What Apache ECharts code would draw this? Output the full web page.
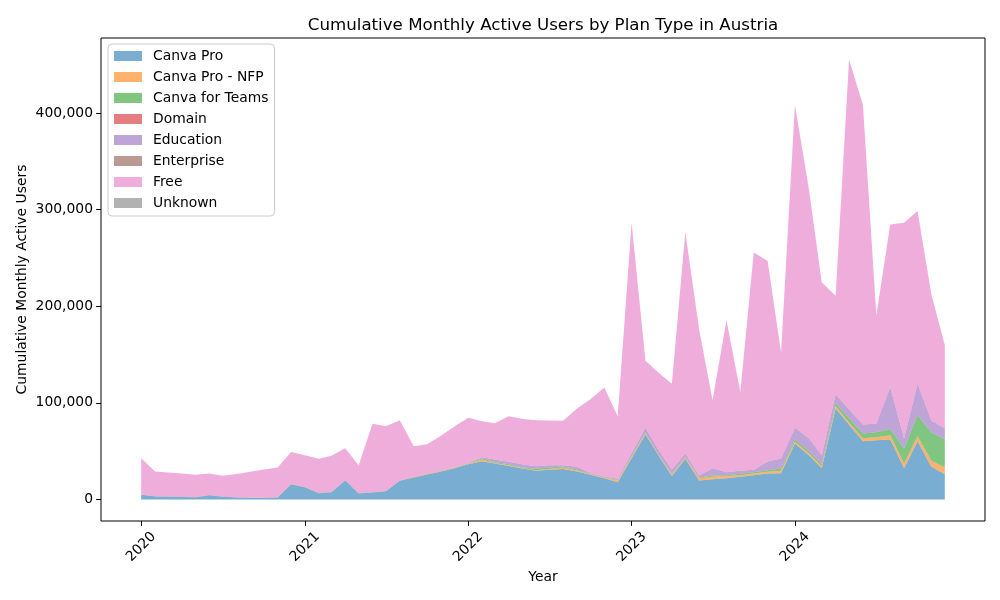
<!DOCTYPE html>
<html>
<head>
<meta charset="utf-8">
<style>html,body{margin:0;padding:0;background:#fff}#c{width:1000px;height:600px}</style>
<script src="https://cdn.jsdelivr.net/npm/echarts@6/dist/echarts.min.js"></script>
</head>
<body>
<div id="c"></div>
<script>
const planNames = ['Canva Pro','Canva Pro - NFP','Canva for Teams','Domain','Education','Enterprise','Free','Unknown'];
const planColors = ['#1f77b4','#ff7f0e','#2ca02c','#d62728','#9467bd','#8c564b','#e377c2','#7f7f7f'];
const startYear = 2020;
const endYear = 2024;
const yearLabels = ['2020','2021','2022','2023','2024'];
const valueTicks = [0,100000,200000,300000,400000];

const canvaPro = [4800,3100,2800,2600,2400,4500,2800,2000,1900,1900,2000,15900,12800,6500,7600,19700,6200,7200,8500,19300,22800,25900,29000,32400,36500,39700,37200,34800,32000,29700,30700,31700,29000,25500,22000,17900,42800,67300,46200,24200,42100,19700,21000,22100,23500,25200,26900,27300,58000,45900,32400,94200,77300,60400,61400,62100,32400,60400,33800,26200];
const canvaProNfp = [100,100,100,100,100,100,100,100,100,100,100,100,100,100,100,100,100,100,100,100,500,500,500,500,500,1700,700,700,700,700,1000,1400,1000,700,700,1700,1500,1400,1000,1700,1400,2400,2500,2100,1700,1700,1700,2400,1700,1700,2100,2400,2400,3100,3100,4500,4900,5100,6200,6900];
const canvaTeams = [100,100,100,100,100,100,100,100,100,100,100,100,100,100,100,100,100,100,100,100,200,200,200,200,300,1300,1000,1000,700,1400,1400,1000,1000,300,300,700,700,700,400,400,400,700,1300,1000,1400,1400,1800,2400,2700,2400,2100,3400,4100,4800,5200,6500,15500,21800,29700,29000];
const domain = new Array(60).fill(0);
const education = [100,100,100,100,100,100,100,100,100,100,100,100,100,100,100,100,100,100,100,100,100,100,100,100,200,1100,2500,2500,3200,2700,2400,1400,2800,800,800,1100,3000,4800,4500,4700,3700,2000,7600,3100,3100,2400,8900,10300,11800,13500,9300,9000,9300,9300,9000,43200,10300,32700,11700,11700];
const enterprise = new Array(60).fill(0);
const free = [37700,25600,24900,24100,22800,22200,21400,24200,26400,28800,30800,33100,32800,35300,37300,33100,29000,70800,67100,62500,31600,30600,36200,42300,47000,37200,37600,47200,46900,47600,46300,45900,60400,76500,92100,64800,238400,69300,79700,88900,229400,151200,70400,157300,81700,225000,207700,109800,334100,258500,178800,101900,362300,330700,112100,168400,223300,178500,130800,85900];
const unknown = new Array(60).fill(0);

const planValues = [canvaPro,canvaProNfp,canvaTeams,domain,education,enterprise,free,unknown];
const ink = '#000';
const font = 'DejaVu Sans';
const dayMs = 86400000;
const origin = Date.UTC(startYear, 0, 1);
const monthDay = i => (Date.UTC(startYear, i, 1) - origin) / dayMs;
const yearDays = yearLabels.map(y => (Date.UTC(+y, 0, 1) - origin) / dayMs);
const spanDays = (Date.UTC(endYear, 11, 1) - origin) / dayMs;

const chart = echarts.init(document.getElementById('c'), null, {renderer:'canvas'});
chart.setOption({
  animation:false,
  backgroundColor:'#fff',
  textStyle:{fontFamily:font,color:ink},
  title:{text:'Cumulative Monthly Active Users by Plan Type in Austria',left:538,top:12,textAlign:'center',
    textStyle:{fontFamily:font,fontSize:16.67,fontWeight:'normal',color:ink}},
  grid:{left:101,right:15,top:38,bottom:79,show:true,borderColor:ink,borderWidth:1,backgroundColor:'transparent'},
  legend:{orient:'vertical',left:108,top:44,padding:[5,6,6,6],itemWidth:28,itemHeight:10,itemGap:7,
    backgroundColor:'rgba(255,255,255,0.8)',borderColor:'#ccc',borderWidth:1,borderRadius:4,
    textStyle:{fontFamily:font,fontSize:13.89,color:ink,padding:[0,0,0,6]},
    data:planNames.map((n,i)=>({name:n,icon:'rect',itemStyle:{color:planColors[i],opacity:0.6,borderWidth:0}}))},
  xAxis:{type:'value',min:-spanDays*0.05,max:spanDays*1.05,name:'Year',nameLocation:'middle',nameGap:49,nameMoveOverlap:false,
    nameTextStyle:{fontFamily:font,fontSize:13.89,color:ink},
    axisLine:{show:false,onZero:false},splitLine:{show:false},
    axisTick:{show:true,length:4.9,lineStyle:{color:ink,width:1},customValues:yearDays},
    axisLabel:{rotate:45,fontFamily:font,fontSize:13.89,color:ink,margin:26,customValues:yearDays,align:'center',verticalAlign:'middle',
      formatter:v=>yearLabels[yearDays.indexOf(+v)]}},
  yAxis:{type:'value',min:-22250,max:477700,name:'Cumulative Monthly Active Users',nameLocation:'middle',nameGap:72,nameMoveOverlap:false,
    nameTextStyle:{fontFamily:font,fontSize:13.89,color:ink},
    axisLine:{show:false,onZero:false},splitLine:{show:false},
    axisTick:{show:true,length:4.9,lineStyle:{color:ink,width:1},customValues:valueTicks},
    axisLabel:{fontFamily:font,fontSize:13.89,color:ink,margin:8,customValues:valueTicks,
      formatter:v=>v.toLocaleString('en-US')}},
  series:planNames.map((n,i)=>({
    name:n,type:'line',stack:'plans',showSymbol:false,symbol:'none',
    encode:{x:1,y:0},
    lineStyle:{width:0},itemStyle:{color:planColors[i]},
    areaStyle:{color:planColors[i],opacity:0.6},
    data:planValues[i].map((v,m)=>[v,monthDay(m)])
  }))
});
</script>
</body>
</html>
